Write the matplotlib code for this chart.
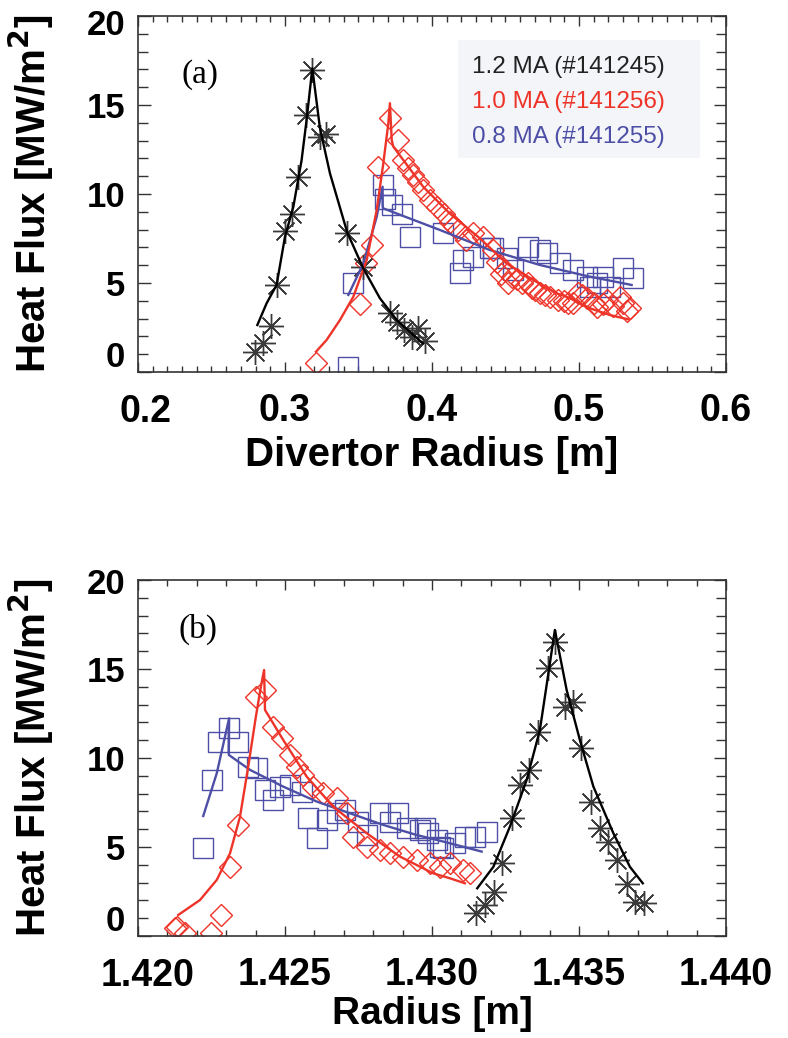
import matplotlib
matplotlib.use('Agg')
import matplotlib.pyplot as plt
from matplotlib.patches import Rectangle
from matplotlib.ticker import MultipleLocator

# ---- panel (a): divertor radius ----
blk_a_x = [0.2796, 0.2848, 0.2903, 0.2943, 0.3000, 0.3045, 0.3090, 0.3141, 0.3181, 0.3238,
           0.3279, 0.3424, 0.3530, 0.3714, 0.3760, 0.3810, 0.3862, 0.3907, 0.3952]
blk_a_y = [1.14, 1.61, 2.58, 4.89, 7.92, 8.90, 10.97, 14.44, 16.97, 13.18,
           13.37, 7.83, 5.92, 3.30, 2.83, 2.36, 1.98, 2.45, 1.76]
blk_a_fx = [0.2812, 0.2875, 0.2943, 0.3000, 0.3057, 0.3113, 0.3147, 0.3186, 0.3238, 0.3306,
            0.3424, 0.3533, 0.3646, 0.3760, 0.3873, 0.3937]
blk_a_fy = [2.64, 3.86, 4.89, 7.60, 9.29, 11.90, 14.16, 17.06, 13.69, 11.16,
            7.83, 5.82, 4.14, 2.92, 2.08, 1.61]

red_a_x = [0.3211, 0.3510, 0.3548, 0.3590, 0.3636, 0.3714, 0.3771, 0.3805, 0.3839, 0.3873,
           0.3907, 0.3941, 0.3986, 0.4032, 0.4080, 0.4122, 0.4150, 0.4179, 0.4230, 0.4281,
           0.4349, 0.4417, 0.4440, 0.4470, 0.4497, 0.4520, 0.4542, 0.4580, 0.4610, 0.4650,
           0.4678, 0.4700, 0.4735, 0.4770, 0.4803, 0.4859, 0.4900, 0.4927, 0.4960, 0.4995,
           0.5020, 0.5052, 0.5100, 0.5120, 0.5160, 0.5188, 0.5230, 0.5279, 0.5302, 0.5330, 0.5347]
red_a_y = [0.49, 3.83, 6.10, 7.13, 11.53, 14.25, 13.03, 11.90, 11.44, 11.07,
           10.69, 10.22, 9.66, 9.29, 8.90, 8.44, 8.20, 7.98, 7.40, 7.79,
           7.60, 6.85, 6.20, 5.50, 5.73, 5.00, 5.35, 5.20, 4.98, 5.00,
           4.70, 4.60, 4.42, 4.30, 4.23, 4.04, 4.00, 3.86, 3.90, 4.42,
           4.30, 4.14, 3.90, 3.67, 3.80, 4.04, 3.70, 4.23, 3.86, 3.40, 3.58]
red_a_fx = [0.3211, 0.3283, 0.3374, 0.3465, 0.3556, 0.3624, 0.3669, 0.3703, 0.3714, 0.3726,
            0.3737, 0.3941, 0.4122, 0.4327, 0.4508, 0.4689, 0.4848, 0.4916, 0.5075, 0.5211, 0.5335]
red_a_fy = [1.14, 1.80, 2.92, 4.23, 6.29, 9.10, 11.72, 13.97, 15.10, 13.03,
            12.66, 10.40, 8.90, 7.50, 6.10, 5.17, 4.42, 4.23, 3.58, 3.20, 2.96]

blu_a_x = [0.3430, 0.3465, 0.3669, 0.3680, 0.3726, 0.3794, 0.3850, 0.4077, 0.4190, 0.4213,
           0.4281, 0.4395, 0.4417, 0.4508, 0.4553, 0.4655, 0.4735, 0.4780, 0.4871, 0.4962,
           0.5052, 0.5075, 0.5120, 0.5166, 0.5211, 0.5302, 0.5370]
blu_a_y = [0.30, 4.98, 10.50, 9.70, 9.38, 8.90, 7.60, 7.79, 5.54, 6.29,
           6.48, 6.95, 6.95, 6.38, 5.73, 7.04, 6.85, 6.66, 6.10, 5.73,
           5.35, 4.79, 4.98, 5.35, 4.79, 5.82, 5.26]
blu_a_fx = [0.3431, 0.3533, 0.3624, 0.3664, 0.3665, 0.3669, 0.4054, 0.4395, 0.4735, 0.5050, 0.5358]
blu_a_fy = [4.33, 6.10, 8.72, 10.41, 9.29, 9.19, 7.98, 6.85, 6.01, 5.40, 4.89]

# ---- panel (b): radius ----
blk_b_x = [1.43150, 1.43180, 1.43211, 1.43237, 1.43271, 1.43299, 1.43331, 1.43359, 1.43393, 1.43418,
           1.43452, 1.43481, 1.43507, 1.43541, 1.43571, 1.43600, 1.43631, 1.43662, 1.43690, 1.43721]
blk_b_y = [1.31, 1.74, 2.49, 4.08, 6.61, 8.48, 9.33, 11.48, 15.04, 16.53,
           12.88, 13.16, 10.54, 7.55, 6.05, 5.30, 4.27, 2.92, 1.93, 1.87]
blk_b_fx = [1.43154, 1.43209, 1.43265, 1.43322, 1.43367, 1.43396, 1.43418, 1.43458, 1.43503, 1.43549,
            1.43617, 1.43673, 1.43717]
blk_b_fy = [2.68, 3.89, 6.14, 8.76, 11.57, 14.76, 17.19, 13.82, 11.01, 8.39, 5.77, 3.89, 2.96]

red_b_x = [1.42126, 1.42132, 1.42160, 1.42250, 1.42282, 1.42313, 1.42341, 1.42401, 1.42432, 1.42460,
           1.42489, 1.42517, 1.42540, 1.42562, 1.42596, 1.42630, 1.42676, 1.42710, 1.42732, 1.42778,
           1.42823, 1.42857, 1.42902, 1.42948, 1.42993, 1.43027, 1.43061, 1.43107, 1.43130]
red_b_y = [0.43, 0.52, 0.17, 0.17, 1.18, 3.90, 6.24, 13.44, 13.82, 11.76,
           11.10, 10.17, 9.51, 9.04, 8.39, 8.02, 7.74, 6.89, 5.58, 5.02,
           4.83, 4.64, 4.46, 4.27, 4.08, 3.89, 4.08, 3.70, 3.52]
red_b_fx = [1.42137, 1.42211, 1.42268, 1.42313, 1.42347, 1.42375, 1.42401, 1.42418, 1.42429, 1.42432,
            1.42494, 1.42574, 1.42664, 1.42778, 1.42891, 1.43004, 1.43061, 1.43112]
red_b_fy = [1.18, 2.02, 3.15, 4.64, 6.70, 9.51, 12.32, 14.00, 14.94, 12.70,
            11.01, 8.95, 7.26, 5.77, 4.46, 3.52, 3.24, 2.96]

blu_b_x = [1.42220, 1.42251, 1.42273, 1.42310, 1.42341, 1.42375, 1.42404, 1.42432, 1.42460, 1.42483,
           1.42517, 1.42557, 1.42579, 1.42608, 1.42642, 1.42676, 1.42704, 1.42749, 1.42778, 1.42823,
           1.42857, 1.42886, 1.42914, 1.42960, 1.42976, 1.42988, 1.43016, 1.43027, 1.43039, 1.43078,
           1.43112, 1.43146, 1.43186]
blu_b_y = [4.93, 8.76, 10.92, 11.67, 10.92, 9.51, 9.42, 8.20, 7.64, 8.39,
           8.48, 8.11, 6.61, 5.49, 6.52, 6.89, 7.08, 6.42, 5.67, 6.89,
           6.42, 6.89, 6.05, 5.96, 6.05, 5.77, 5.39, 5.02, 4.93, 5.21,
           5.58, 5.58, 5.86]
blu_b_fx = [1.42222, 1.42268, 1.42310, 1.42309, 1.42381, 1.42494, 1.42608, 1.42721, 1.42834, 1.42948,
            1.43039, 1.43169]
blu_b_fy = [6.74, 9.14, 12.23, 10.17, 9.33, 8.39, 7.55, 6.89, 6.24, 5.67, 5.30, 4.74]

legend_labels = ['1.2 MA (#141245)', '1.0 MA (#141256)', '0.8 MA (#141255)']

BLACK = '#222222'
RED = '#ee3328'
BLUE = '#4d4fa6'
SANS = ['Liberation Sans', 'DejaVu Sans']
SERIF = ['Liberation Serif', 'DejaVu Serif']

fig = plt.figure(figsize=(7.88, 10.38), dpi=100)
ax1 = fig.add_axes([0.1751, 0.6416, 0.7462, 0.3430])
ax2 = fig.add_axes([0.1751, 0.0983, 0.7462, 0.3430])


def draw(ax, k, r, b):
    ax.plot(b[0], b[1], ls='none', marker='s', ms=14.5, mfc='none', mec=BLUE, mew=1.0)
    ax.plot(r[0], r[1], ls='none', marker='D', ms=11, mfc='none', mec=RED, mew=1.0)
    ax.plot(k[0], k[1], ls='none', marker=(8, 2, 0), ms=18, mec='#3a3a3a', mew=1.0)
    ax.plot(b[2], b[3], color=BLUE, lw=1.7)
    ax.plot(r[2], r[3], color=RED, lw=1.7)
    ax.plot(k[2], k[3], color='black', lw=1.7)


draw(ax1, (blk_a_x, blk_a_y, blk_a_fx, blk_a_fy), (red_a_x, red_a_y, red_a_fx, red_a_fy),
     (blu_a_x, blu_a_y, blu_a_fx, blu_a_fy))
draw(ax2, (blk_b_x, blk_b_y, blk_b_fx, blk_b_fy), (red_b_x, red_b_y, red_b_fx, red_b_fy),
     (blu_b_x, blu_b_y, blu_b_fx, blu_b_fy))

ax1.set_xlim(0.2, 0.6)
ax2.set_xlim(1.420, 1.440)
xticks1 = [0.2, 0.3, 0.4, 0.5, 0.6]
xticks2 = [1.420, 1.425, 1.430, 1.435, 1.440]
ax1.set_xticks(xticks1)
ax2.set_xticks(xticks2)
ax1.xaxis.set_minor_locator(MultipleLocator(0.01))
ax2.xaxis.set_minor_locator(MultipleLocator(0.001))
# first x label sits a bit right of its tick
ax1.set_xticklabels([''] + ['%.1f' % v for v in xticks1[1:]])
ax2.set_xticklabels([''] + ['%.3f' % v for v in xticks2[1:]])

for ax, first, dx, y20 in [(ax1, '0.2', 0.0048, 19.45), (ax2, '1.420', 0.00032, 19.75)]:
    ax.set_ylim(0, 20)
    ax.set_yticks([0, 5, 10, 15, 20])
    ax.set_yticklabels(['', '5', '10', '15', ''])
    ax.yaxis.set_minor_locator(MultipleLocator(1))
    ax.tick_params(which='both', direction='in', top=True, right=True, width=1.0, color='#333333')
    ax.tick_params(axis='x', which='major', length=7, pad=15, labelsize=27)
    ax.tick_params(axis='x', which='minor', length=4)
    ax.tick_params(axis='y', which='major', length=9, pad=9, labelsize=25)
    ax.tick_params(axis='y', which='minor', length=7)
    for lab in ax.get_xticklabels() + ax.get_yticklabels():
        lab.set_fontweight('bold')
        lab.set_family(SANS)
    ytr = ax.get_yaxis_transform()
    ax.text(-0.022, 0.8, '0', transform=ytr, ha='right', va='center',
            fontsize=25, fontweight='bold', family=SANS)
    ax.text(-0.022, y20, '20', transform=ytr, ha='right', va='center',
            fontsize=25, fontweight='bold', family=SANS)
    xtr = ax.get_xaxis_transform()
    ax.text(ax.get_xlim()[0] + dx, -0.062, first, transform=xtr, ha='center', va='top',
            fontsize=27, fontweight='bold', family=SANS)
    for s in ax.spines.values():
        s.set_linewidth(1.2)
        s.set_color('#333333')
    ax.set_ylabel('Heat Flux [MW/m$^\\mathbf{2}$]', fontsize=29, fontweight='bold', family=SANS)
    ax.yaxis.set_label_coords(-0.14, 0.5)

ax1.set_xlabel('Divertor Radius [m]', fontsize=29, fontweight='bold', family=SANS)
ax1.xaxis.set_label_coords(0.5, -0.18)
ax2.set_xlabel('Radius [m]', fontsize=28, fontweight='bold', family=SANS)
ax2.xaxis.set_label_coords(0.5, -0.168)

ax1.text(0.105, 0.834, '(a)', transform=ax1.transAxes, ha='center', va='center',
         fontsize=24, family=SERIF)
ax2.text(0.102, 0.86, '(b)', transform=ax2.transAxes, ha='center', va='center',
         fontsize=24, family=SERIF)

# legend box drawn as text on a pale panel
ax1.add_patch(Rectangle((0.544, 0.601), 0.412, 0.332, transform=ax1.transAxes,
                        facecolor='#f3f5f9', edgecolor='none', zorder=1))
for i, (lab, col) in enumerate(zip(legend_labels, [BLACK, RED, BLUE])):
    ax1.text(0.568, 0.858 - i * 0.0985, lab, transform=ax1.transAxes, ha='left', va='center',
             fontsize=17.5, color=col, family=SANS, zorder=3)

fig.savefig('out.png', dpi=100)
